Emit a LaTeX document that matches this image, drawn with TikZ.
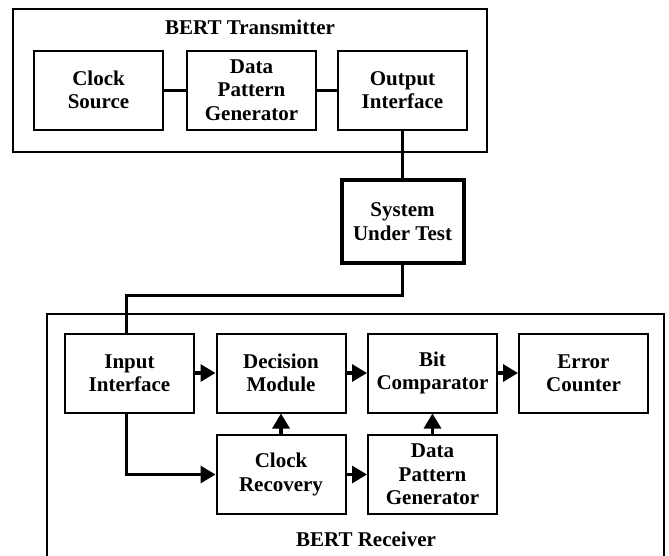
\documentclass[tikz,border=0pt]{standalone}
\usepackage{fontspec}
\setmainfont{Liberation Serif}
\usetikzlibrary{arrows.meta}
\usetikzlibrary{positioning}

\begin{document}
\begin{tikzpicture}[x=1pt,y=-1pt,
  font=\fontsize{21}{23.5}\selectfont\bfseries,
  blk/.style={draw,line width=2pt,align=center,minimum width=129pt,minimum height=79pt,inner sep=0pt},
  link/.style={line width=3pt},
  flow/.style={line width=3.2pt,-{Triangle[length=15pt,width=17pt]}}]
\useasboundingbox (0,0) rectangle (669,555);
% transmitter side
\draw[line width=2pt] (13,9) rectangle (487,152);
\node (txtitle) at (250,27) {BERT Transmitter};
\node[blk] (clksrc) at (98.5,90) {Clock\\Source};
\node[blk] (dpgtx) at (251.5,90) {Data\\Pattern\\Generator};
\node[blk] (outif) at (402.5,90) {Output\\Interface};
\draw[link] (clksrc) -- (dpgtx);
\draw[link] (dpgtx) -- (outif);
% device under test
\node[blk,line width=4pt,minimum width=122pt,minimum height=83pt] (sut) at (402.5,221.5) {System\\Under Test};
\draw[link] (outif.south) -- (sut.north);
% receiver side
\draw[line width=1.6pt] (47,314) rectangle (664,580);
\node (rxtitle) at (366,539) {BERT Receiver};
\node[blk] (inif) at (129.5,373) {Input\\Interface};
\node[blk] (dec) at (281,373) {Decision\\Module};
\node[blk] (bitcmp) at (432.5,373) {Bit\\Comparator};
\node[blk] (errcnt) at (583.5,373) {Error\\Counter};
\node[blk] (clkrec) at (281,474.5) {Clock\\Recovery};
\node[blk] (dpgrx) at (432.5,474.5) {Data\\Pattern\\Generator};
\draw[link] (sut.south) -- ++(0,30) -| ([xshift=-3pt]inif.north);
\draw[flow] (inif) -- (dec);
\draw[flow] (dec) -- (bitcmp);
\draw[flow] (bitcmp) -- (errcnt);
\draw[flow] (clkrec) -- (dec);
\draw[flow] (dpgrx) -- (bitcmp);
\draw[flow] (clkrec) -- (dpgrx);
\draw[flow] ([xshift=-3pt]inif.south) |- (clkrec.west);
\end{tikzpicture}
\end{document}
